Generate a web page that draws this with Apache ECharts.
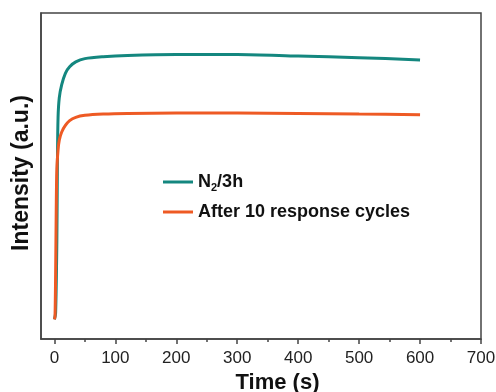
<!DOCTYPE html>
<html>
<head>
<meta charset="utf-8">
<script src="https://cdn.jsdelivr.net/npm/echarts@6/dist/echarts.min.js"></script>
<style>
    html, body { margin: 0; padding: 0; background: #fff; }
    #main { width: 496px; height: 392px; }
</style>
</head>
<body>
<div id="main"></div>
<script>
// 数据
var timeN2 = [0, 2, 4, 5, 6, 8, 12, 18, 25, 35, 50, 80, 120, 200, 300, 400, 500, 600];
var valN2 = [6, 8, 30, 55, 68, 74, 78, 81.5, 83.5, 85, 86, 86.6, 87, 87.3, 87.3, 86.8, 86.3, 85.6];

var timeCycle = [0, 1, 2, 3, 4, 6, 8, 12, 18, 25, 35, 50, 80, 120, 200, 300, 400, 500, 600];
var valCycle = [6, 7, 20, 40, 52, 58, 61, 63.5, 65.5, 67, 68, 68.6, 69, 69.2, 69.3, 69.3, 69.2, 69, 68.8];

var xMajor = [0, 100, 200, 300, 400, 500, 600, 700];
var xMinor = [50, 150, 250, 350, 450, 550, 650];

var seriesNames = ['N2/3h', 'After 10 response cycles'];
var colors = ['#14877f', '#ee5a24'];

function pairs(xs, ys) {
    var out = [];
    for (var i = 0; i < xs.length; i++) {
        out.push([xs[i], ys[i]]);
    }
    return out;
}

var chart = echarts.init(document.getElementById('main'));

// 两个重叠的grid: 第二个只用来画次刻度
var gridBox = { left: 41, right: 15, top: 13, bottom: 53, outerBoundsMode: 'none', containLabel: false };

var option = {
    animation: false,
    textStyle: { fontFamily: 'Liberation Sans, Arial, sans-serif' },
    grid: [
        Object.assign({ show: true, borderColor: '#444', borderWidth: 1.5 }, gridBox),
        Object.assign({}, gridBox)
    ],
    legend: {
        orient: 'vertical',
        left: 163,
        top: 173,
        padding: 0,
        itemGap: 10,
        itemWidth: 30,
        itemHeight: 3,
        icon: 'rect',
        data: seriesNames,
        formatter: function (name) {
            if (name === 'N2/3h') {
                return '{b|N}{s|2}{b|/3h}';
            }
            return '{b|' + name + '}';
        },
        textStyle: {
            rich: {
                b: { fontSize: 18, fontWeight: 'bold', color: '#111', lineHeight: 20 },
                s: { fontSize: 11, fontWeight: 'bold', color: '#111', padding: [11, 0, 0, 0] }
            }
        }
    },
    xAxis: [
        {
            type: 'value',
            gridIndex: 0,
            min: -22,
            max: 700,
            name: 'Time (s)',
            nameLocation: 'middle',
            nameGap: 30,
            nameTextStyle: { fontSize: 22, fontWeight: 'bold', color: '#111', padding: [0, 0, 0, 33] },
            axisLine: { show: true, onZero: false, lineStyle: { color: '#444', width: 1.5 } },
            axisTick: { show: true, customValues: xMajor, length: 5, lineStyle: { color: '#444', width: 1.5 } },
            axisLabel: { customValues: xMajor, fontSize: 17, color: '#222', margin: 11 },
            splitLine: { show: false }
        },
        {
            type: 'value',
            gridIndex: 1,
            min: -22,
            max: 700,
            axisLine: { show: false, onZero: false },
            axisTick: { show: true, customValues: xMinor, length: 3, lineStyle: { color: '#444', width: 1.5 } },
            axisLabel: { show: false },
            splitLine: { show: false }
        }
    ],
    yAxis: [
        {
            type: 'value',
            gridIndex: 0,
            min: 0,
            max: 100,
            name: 'Intensity (a.u.)',
            nameLocation: 'middle',
            nameGap: 8,
            nameTextStyle: { fontSize: 23, fontWeight: 'bold', color: '#111', padding: [0, 0, 0, 6] },
            axisLine: { show: true, onZero: false, lineStyle: { color: '#444', width: 1.5 } },
            axisTick: { show: false },
            axisLabel: { show: false },
            splitLine: { show: false }
        },
        {
            type: 'value',
            gridIndex: 1,
            min: 0,
            max: 100,
            show: false
        }
    ],
    series: [
        {
            name: seriesNames[0],
            type: 'line',
            data: pairs(timeN2, valN2),
            smooth: 0.3,
            showSymbol: false,
            color: colors[0],
            lineStyle: { width: 3, color: colors[0] }
        },
        {
            name: seriesNames[1],
            type: 'line',
            data: pairs(timeCycle, valCycle),
            smooth: 0.3,
            showSymbol: false,
            color: colors[1],
            lineStyle: { width: 3, color: colors[1] }
        }
    ]
};

chart.setOption(option);
</script>
</body>
</html>
